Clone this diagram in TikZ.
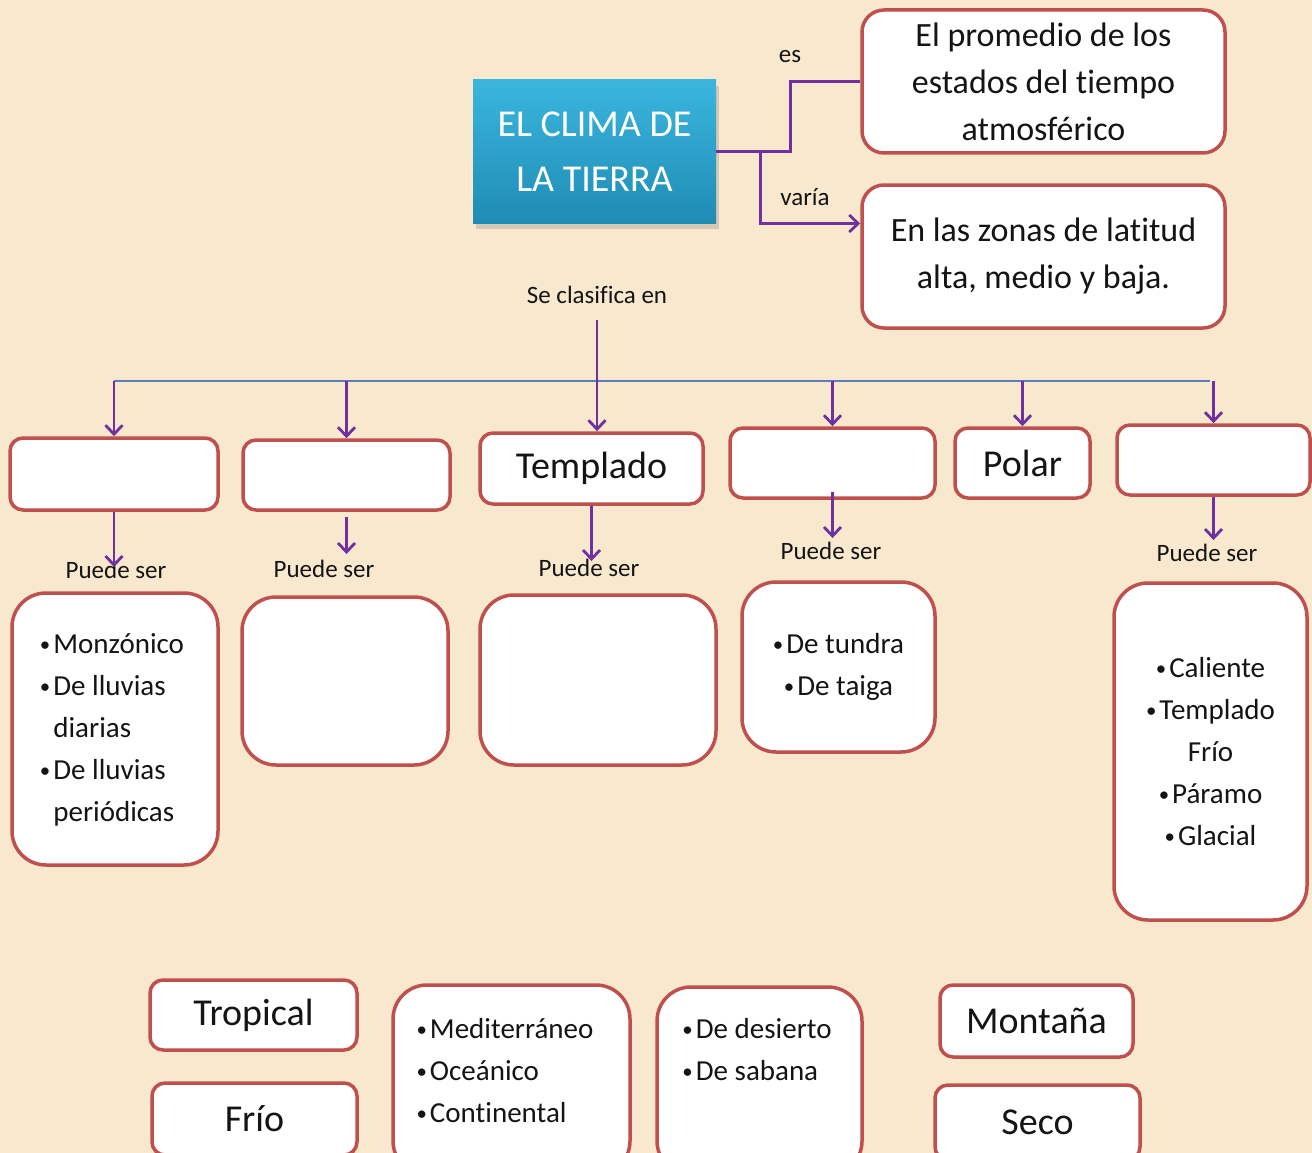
\documentclass[tikz,border=0pt]{standalone}
\usepackage{fontspec}
\setmainfont{Carlito}[Ligatures=NoCommon]
\usetikzlibrary{positioning,arrows.meta,shadows}
\definecolor{borde}{HTML}{C0504D}
\definecolor{flecha}{HTML}{7030A0}
\definecolor{barra}{HTML}{5B7DBD}
\definecolor{fondo}{HTML}{F8E9CE}
\definecolor{climaA}{HTML}{3AB6DE}
\definecolor{climaB}{HTML}{1F8CB4}
\definecolor{texto}{HTML}{141414}
\newcommand{\bala}{\raisebox{0.08em}{\scalebox{0.72}{\textbullet}}\kern3pt}
\newcommand{\hueco}{\hphantom{\bala}}

\begin{document}
\begin{tikzpicture}[
x=1pt,y=-1pt,
Caja/.style={draw=borde,line width=3.5pt,fill=white,rounded corners=13pt,text=texto,inner sep=0pt,align=center,font=\fontsize{38}{46}\selectfont},
CajaGrande/.style={Caja,rounded corners=34pt,font=\fontsize{29}{42}\selectfont},
CajaTexto/.style={Caja,rounded corners=22pt,font=\fontsize{34}{47}\selectfont},
Flechas/.style={draw=flecha,line width=2.8pt,-{Straight Barb[length=9pt,width=17pt]}},
Linea/.style={draw=flecha,line width=2.8pt},
Etiqueta/.style={text=texto,font=\fontsize{25}{30}\selectfont,inner sep=0pt},
Lista/.style={text=texto,font=\fontsize{29}{42}\selectfont,inner sep=0pt,align=left}
]
\useasboundingbox (0,0) rectangle (1312,1153);
\clip (0,0) rectangle (1312,1153);
\fill[fondo] (0,0) rectangle (1312,1153);

% titulo y definiciones
\node[top color=climaA,bottom color=climaB,drop shadow={shadow xshift=3pt,shadow yshift=-6pt,opacity=.3},
  minimum width=243,minimum height=143,inner sep=0pt,text=white,align=center,
  font=\fontsize{38}{55}\selectfont] (clima) at (594.5,151.5) {EL CLIMA DE\\LA TIERRA};

\node[CajaTexto,minimum width=363,minimum height=143] (prom) at (1043.5,81.5)
  {El promedio de los\\estados del tiempo\\atmosférico};
\node[CajaTexto,minimum width=363,minimum height=143] (lat) at (1043.5,256.5)
  {En las zonas de latitud\\alta, medio y baja.};

\node[Etiqueta] (es) at (790,57) {es};
\node[Etiqueta] (varia) at (805,197) {varía};

\draw[Linea] (clima.east) -- ++(74,0) |- (prom.west);
\path (clima.east) ++(44,0) coordinate (rama);
\draw[Flechas] (rama) |- ([yshift=33pt]lat.west);

\node[Etiqueta] (clasif) at (597,295) {Se clasifica en};

% tipos de clima
\node[Caja,minimum width=208,minimum height=72] (z1) at (114,474) {};
\node[Caja,minimum width=207,minimum height=70] (z2) at (346.5,475) {};
\node[Caja,minimum width=223,minimum height=71] (z3) at (591.5,468.5) {Templado};
\node[Caja,minimum width=205,minimum height=70] (z4) at (832.5,463) {};
\node[Caja,minimum width=135,minimum height=70] (z5) at (1022.5,463) {Polar};
\node[Caja,minimum width=193,minimum height=70] (z6) at (1213.5,460) {};

\coordinate (barraIzq) at (114,381);
\coordinate (barraDer) at (1210,381);
\draw[barra,line width=1.6pt] (barraIzq) -- (barraDer);
\draw[Flechas] (clasif.south) ++(0,16) -- (clasif.south |- z3.north);
\foreach \z in {z1,z2,z4,z5,z6}
  \draw[Flechas] (\z.north |- barraIzq) -- (\z.north);

\node[Etiqueta] (p1) at (116,570) {Puede ser};
\node[Etiqueta] (p2) at (324,569) {Puede ser};
\node[Etiqueta] (p3) at (589,568) {Puede ser};
\node[Etiqueta] (p4) at (831,551) {Puede ser};
\node[Etiqueta] (p6) at (1207,553) {Puede ser};

\draw[Flechas] (z1.south) -- ([yshift=-6pt]z1.south |- p1.north);
\draw[Flechas] ([yshift=-5pt]z2.south) -- ([yshift=6pt]z2.south |- p2.north);
\draw[Flechas] (z3.south) -- ([yshift=-2pt]z3.south |- p3.north);
\draw[Flechas] ([yshift=8pt]z4.south) -- ([yshift=4pt]z4.south |- p4.north);
\draw[Flechas] (z6.south) -- ([yshift=4pt]z6.south |- p6.north);

% subtipos
\node[CajaGrande,minimum width=206,minimum height=272] (s1) at (115,729) {};
\node[Lista] (s1txt) at (112,730)
  {\bala Monzónico\\\bala De lluvias\\\hueco diarias\\\bala De lluvias\\\hueco periódicas};
\node[CajaGrande,minimum width=206,minimum height=168] (s2) at (345,681) {};
\node[CajaGrande,minimum width=236,minimum height=170] (s3) at (598,680) {};
\node[CajaGrande,minimum width=193,minimum height=170] (s4) at (838.5,667)
  {\bala De tundra\\\bala De taiga};
\node[CajaGrande,minimum width=193,minimum height=337] (s6) at (1210.5,751.5)
  {\bala Caliente\\\bala Templado\\Frío\\\bala Páramo\\\bala Glacial};

% piezas sueltas
\node[Caja,minimum width=207,minimum height=70] (tropical) at (253.5,1015) {Tropical};
\node[Caja,minimum width=205,minimum height=72] (frio) at (254.5,1119) {Frío};
\node[CajaGrande,minimum width=237,minimum height=190] (templ) at (511.5,1080) {};
\node[Lista] (templtxt) at (505,1071) {\bala Mediterráneo\\\bala Oceánico\\\bala Continental};
\node[CajaGrande,minimum width=205,minimum height=188] (desierto) at (759.5,1081) {};
\node[Lista] (desiertotxt) at (757,1050) {\bala De desierto\\\bala De sabana};
\node[Caja,minimum width=193,minimum height=72] (montana) at (1036.5,1021) {Montaña};
\node[Caja,minimum width=205,minimum height=75] (seco) at (1037.5,1122.5) {Seco};

\end{tikzpicture}
\end{document}
